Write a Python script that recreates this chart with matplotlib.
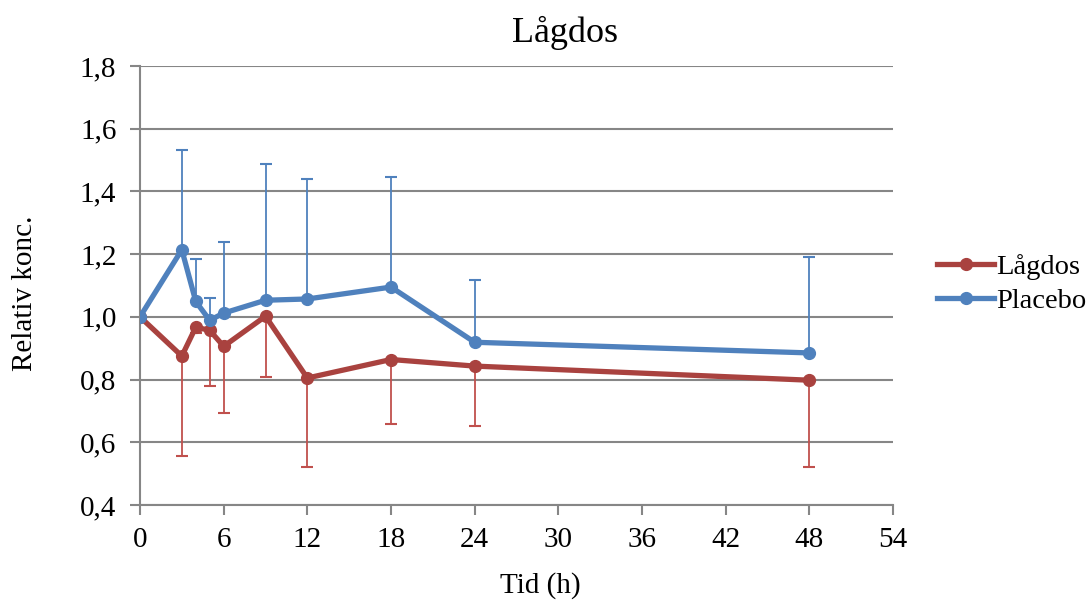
import matplotlib
matplotlib.use("Agg")
import matplotlib.pyplot as plt
import numpy as np

# Tid (h)
tid = [0, 3, 4, 5, 6, 9, 12, 18, 24, 48]

# Lågdos: medel och nedre felstaplar (slutvärde)
lagdos = [1.0, 0.875, 0.967, 0.957, 0.906, 1.002, 0.805, 0.864, 0.843, 0.798]
lagdos_low = [1.0, 0.556, 0.949, 0.780, 0.695, 0.807, 0.522, 0.659, 0.652, 0.520]

# Placebo: medel och övre felstaplar (slutvärde)
placebo = [1.0, 1.214, 1.049, 0.989, 1.012, 1.053, 1.057, 1.095, 0.919, 0.885]
placebo_high = [1.0, 1.531, 1.184, 1.059, 1.238, 1.489, 1.439, 1.447, 1.116, 1.190]

yticks = [0.4, 0.6, 0.8, 1.0, 1.2, 1.4, 1.6, 1.8]
xticks = [0, 6, 12, 18, 24, 30, 36, 42, 48, 54]

plt.rcParams['font.family'] = ['Liberation Serif', 'DejaVu Serif']

red_line = '#A9423F'
red_bar = '#C0504D'
blue_line = '#4F81BD'
blue_bar = '#4F81BD'
grid_col = '#868686'

fig = plt.figure(figsize=(10.92, 6.02), dpi=100)
ax = fig.add_axes([0.1282, 0.1611, 0.6896, 0.7293])

# felstaplar
ax.vlines(tid[1:], lagdos_low[1:], lagdos[1:], color=red_bar, lw=1.3, zorder=2)
ax.plot(tid[1:], lagdos_low[1:], ls='none', marker='_', ms=9, mew=1.5, color=red_bar, zorder=2)
ax.vlines(tid[1:], placebo[1:], placebo_high[1:], color=blue_bar, lw=1.3, zorder=2)
ax.plot(tid[1:], placebo_high[1:], ls='none', marker='_', ms=9, mew=1.5, color=blue_bar, zorder=2)

ax.plot(tid, lagdos, color=red_line, lw=3.8, marker='o', ms=8.5, label='Lågdos', zorder=3)
ax.plot(tid, placebo, color=blue_line, lw=3.8, marker='o', ms=8.5, label='Placebo', zorder=4)

ax.set_xlim(0, 54)
ax.set_ylim(0.4, 1.8)
ax.set_xticks(xticks)
ax.set_yticks(yticks)
ax.set_yticklabels([f"{v:.1f}".replace('.', ',') for v in yticks])
ax.tick_params(axis='both', labelsize=21, direction='out', length=7, width=1.5,
               color=grid_col)
ax.tick_params(axis='x', pad=9)
ax.tick_params(axis='y', pad=10)

ax.grid(axis='y', color=grid_col, lw=1.5)
ax.set_axisbelow(True)
for s in ['top', 'right']:
    ax.spines[s].set_visible(False)
for s in ['left', 'bottom']:
    ax.spines[s].set_color(grid_col)
    ax.spines[s].set_linewidth(1.5)

fig.text(0.517, 0.945, 'Lågdos', fontsize=26, ha='center', va='center')
fig.text(0.495, 0.005, 'Tid (h)', fontsize=21, ha='center', va='bottom')
fig.text(0.023, 0.513, 'Relativ konc.', fontsize=21, rotation=90, ha='center', va='center')

fig.legend(loc='center left', bbox_to_anchor=(0.848, 0.528), frameon=False,
           fontsize=20.5, handlelength=2.0, handletextpad=0.05, labelspacing=0.3,
           borderaxespad=0)

fig.savefig('out.png', dpi=100)
